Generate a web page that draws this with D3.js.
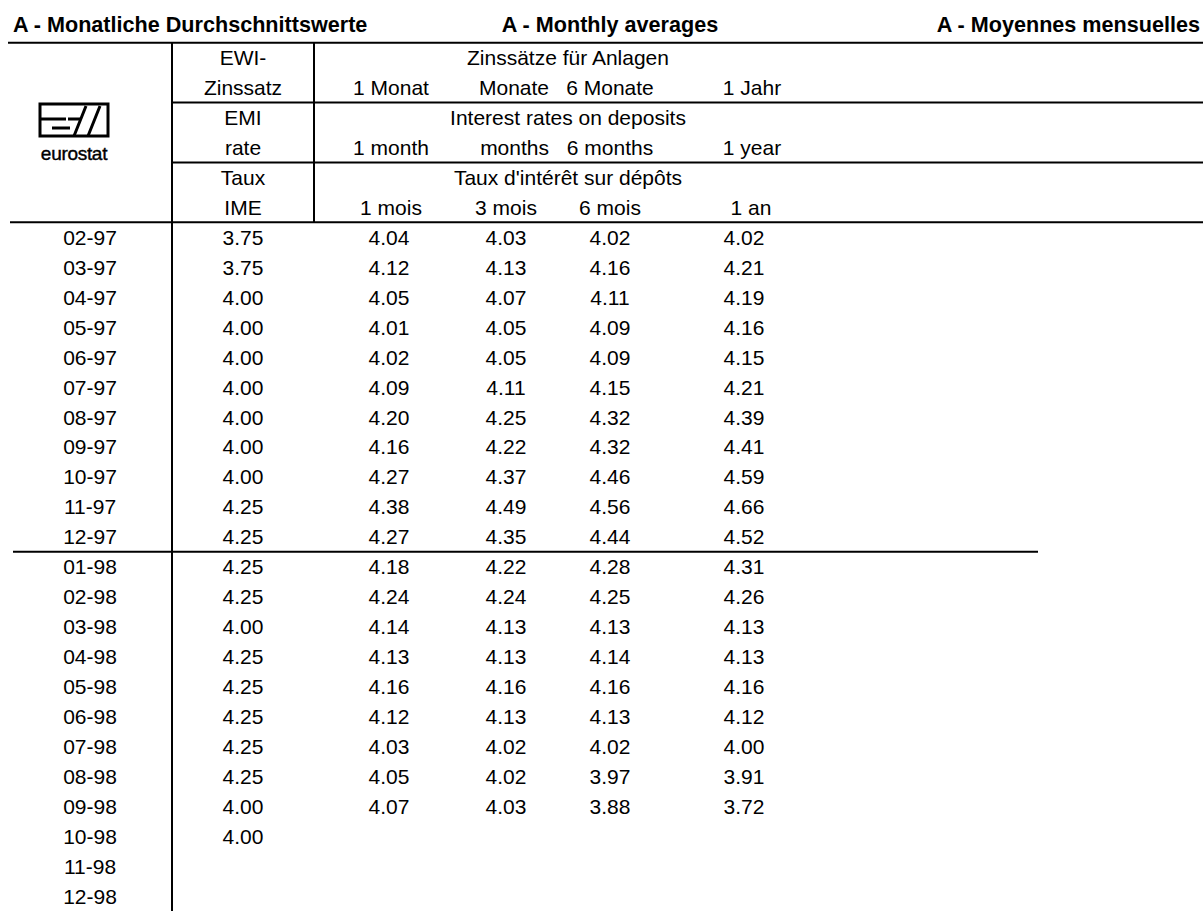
<!DOCTYPE html>
<html>
<head>
<meta charset="utf-8">
<script src="https://cdn.jsdelivr.net/npm/d3@7"></script>
<style>
  html, body { margin: 0; padding: 0; background: #fff; }
  svg { display: block; }
  text { font-family: "Liberation Sans", Arial, sans-serif; fill: #000; }
</style>
</head>
<body>
<svg id="chart" width="1203" height="911"></svg>
<script>
// ---- data ----
const titles = ["A - Monatliche Durchschnittswerte", "A - Monthly averages", "A - Moyennes mensuelles"];
const headerEWI = ["EWI-", "Zinssatz", "EMI", "rate", "Taux", "IME"];
const headerGroup = ["Zinssätze für Anlagen", "Interest rates on deposits", "Taux d'intérêt sur dépôts"];
const headerTermsDE = ["1 Monat", "Monate", "6 Monate", "1 Jahr"];
const headerTermsEN = ["1 month", "months", "6 months", "1 year"];
const headerTermsFR = ["1 mois", "3 mois", "6 mois", "1 an"];
const months = ["02-97","03-97","04-97","05-97","06-97","07-97","08-97","09-97","10-97","11-97","12-97",
                "01-98","02-98","03-98","04-98","05-98","06-98","07-98","08-98","09-98","10-98","11-98","12-98"];
const ewiRate = [3.75,3.75,4.00,4.00,4.00,4.00,4.00,4.00,4.00,4.25,4.25,
                 4.25,4.25,4.00,4.25,4.25,4.25,4.25,4.25,4.00,4.00,null,null];
const rate1m = [4.04,4.12,4.05,4.01,4.02,4.09,4.20,4.16,4.27,4.38,4.27,
                4.18,4.24,4.14,4.13,4.16,4.12,4.03,4.05,4.07,null,null,null];
const rate3m = [4.03,4.13,4.07,4.05,4.05,4.11,4.25,4.22,4.37,4.49,4.35,
                4.22,4.24,4.13,4.13,4.16,4.13,4.02,4.02,4.03,null,null,null];
const rate6m = [4.02,4.16,4.11,4.09,4.09,4.15,4.32,4.32,4.46,4.56,4.44,
                4.28,4.25,4.13,4.14,4.16,4.13,4.02,3.97,3.88,null,null,null];
const rate1y = [4.02,4.21,4.19,4.16,4.15,4.21,4.39,4.41,4.59,4.66,4.52,
                4.31,4.26,4.13,4.13,4.16,4.12,4.00,3.91,3.72,null,null,null];

// ---- layout ----
const W = 1203, H = 911;
const svg = d3.select("#chart");
const FS = 21;
const TFS = 21.6;
const headerRows = 6;
const totalRows = headerRows + months.length;
const rowY = d3.scaleLinear().domain([0, totalRows]).range([42.7, 911]);
const mid = i => rowY(i + 0.5);
const base = i => mid(i) + FS * 0.36;

const colX = d3.scaleOrdinal()
  .domain(["date", "ewi", "m1", "m3", "m6", "y1"])
  .range([90, 243, 389, 506, 610, 744]);
const headX = d3.scaleOrdinal()
  .domain(["m1", "m3", "m6", "y1", "group"])
  .range([391, 515, 610, 752, 568]);

const g = svg.append("g");

// titles
g.append("text").attr("x", 13).attr("y", 32).attr("font-size", TFS).attr("font-weight", "bold")
  .text(titles[0]);
g.append("text").attr("x", 610).attr("y", 32).attr("font-size", TFS).attr("font-weight", "bold")
  .attr("text-anchor", "middle").text(titles[1]);
g.append("text").attr("x", 1200).attr("y", 32).attr("font-size", TFS).attr("font-weight", "bold")
  .attr("text-anchor", "end").text(titles[2]);

// lines
const lines = [
  {x1: 8, x2: W, y: rowY(0)},
  {x1: 172, x2: W, y: rowY(2)},
  {x1: 172, x2: W, y: rowY(4)},
  {x1: 10, x2: W, y: rowY(6)},
  {x1: 13, x2: 1038, y: rowY(headerRows + 11)}
];
g.selectAll("line.h").data(lines).join("line").attr("class", "h")
  .attr("x1", d => d.x1).attr("x2", d => d.x2).attr("y1", d => d.y).attr("y2", d => d.y)
  .attr("stroke", "#000").attr("stroke-width", 2);
g.append("line").attr("x1", 172).attr("x2", 172).attr("y1", rowY(0)).attr("y2", H)
  .attr("stroke", "#000").attr("stroke-width", 2);
g.append("line").attr("x1", 314).attr("x2", 314).attr("y1", rowY(0)).attr("y2", rowY(6))
  .attr("stroke", "#000").attr("stroke-width", 2);

// header EWI column
g.selectAll("text.hewi").data(headerEWI).join("text").attr("class", "hewi")
  .attr("x", colX("ewi")).attr("y", (d, i) => base(i)).attr("font-size", FS)
  .attr("text-anchor", "middle").text(d => d);

// group headers
g.selectAll("text.hgrp").data(headerGroup).join("text").attr("class", "hgrp")
  .attr("x", headX("group")).attr("y", (d, i) => base(i * 2)).attr("font-size", FS)
  .attr("text-anchor", "middle").text(d => d);

// term headers
const termKeys = ["m1", "m3", "m6", "y1"];
[headerTermsDE, headerTermsEN, headerTermsFR].forEach((arr, k) => {
  g.selectAll("text.ht" + k).data(arr).join("text").attr("class", "ht" + k)
    .attr("x", (d, i) => (k < 2 && i === 1) ? 549 : (k === 2 ? [391, 506, 610, 751][i] : headX(termKeys[i])))
    .attr("y", base(k * 2 + 1)).attr("font-size", FS)
    .attr("text-anchor", (d, i) => (k < 2 && i === 1) ? "end" : "middle")
    .text(d => d);
});

// data rows
const fmt = d3.format(".2f");
g.selectAll("text.date").data(months).join("text").attr("class", "date")
  .attr("x", colX("date")).attr("y", (d, i) => base(headerRows + i)).attr("font-size", FS)
  .attr("text-anchor", "middle").text(d => d);

const series = [["ewi", ewiRate], ["m1", rate1m], ["m3", rate3m], ["m6", rate6m], ["y1", rate1y]];
series.forEach(([key, vals]) => {
  g.selectAll("text.v" + key).data(vals.map((v, i) => ({v, i})).filter(d => d.v != null))
    .join("text").attr("class", "v" + key)
    .attr("x", colX(key)).attr("y", d => base(headerRows + d.i)).attr("font-size", FS)
    .attr("text-anchor", "middle").text(d => fmt(d.v));
});

// eurostat logo
const logo = g.append("g").attr("transform", "translate(40,104)");
logo.append("rect").attr("x", 0).attr("y", 0).attr("width", 68).attr("height", 32)
  .attr("fill", "none").attr("stroke", "#000").attr("stroke-width", 3);
logo.append("path").attr("d", "M0,15 H26 M12,24 H30 M28,15 H40")
  .attr("stroke", "#000").attr("stroke-width", 3).attr("fill", "none");
logo.append("path").attr("d", "M34,32 L46,2 M48,32 L60,2")
  .attr("stroke", "#000").attr("stroke-width", 3).attr("fill", "none");
g.append("text").attr("x", 74).attr("y", 160).attr("font-size", 19)
  .attr("text-anchor", "middle").attr("stroke", "#000").attr("stroke-width", 0.4)
  .attr("letter-spacing", -0.3).text("eurostat");
</script>
</body>
</html>
